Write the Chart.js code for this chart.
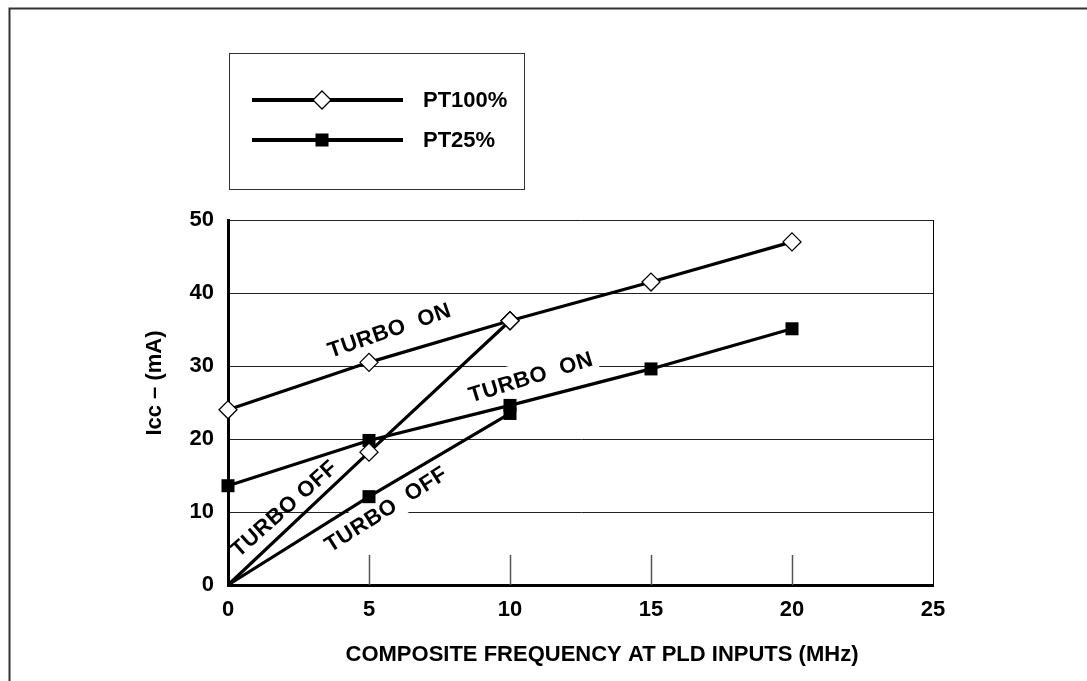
<!DOCTYPE html>
<html>
<head>
<meta charset="utf-8">
<script src="https://cdn.jsdelivr.net/npm/chart.js@4/dist/chart.umd.min.js"></script>
<style>
  html, body { margin: 0; padding: 0; background: #fff; }
  #wrap { width: 1087px; height: 681px; position: relative; }
</style>
</head>
<body>
<div id="wrap"><canvas id="c" width="1087" height="681"></canvas></div>
<script>
// ---- data ----
const seriesNames = ['PT100%', 'PT25%'];
const freqOn = [0, 5, 10, 15, 20];
const freqOff = [0, 5, 10];
const pt100On = [24, 30.5, 36.2, 41.5, 47];
const pt100Off = [0, 18.2, 36.2];
const pt25On = [13.6, 19.8, 24.6, 29.6, 35.1];
const pt25Off = [0, 12.1, 23.5];
const xTicks = [0, 5, 10, 15, 20, 25];
const yTicks = [0, 10, 20, 30, 40, 50];
const xTitle = 'COMPOSITE FREQUENCY AT PLD INPUTS (MHz)';
const yTitle = 'Icc \u2013 (mA)';
// line labels: text, x value, y value, rotation (deg), white background
const labelText = ['TURBO  ON', 'TURBO  ON', 'TURBO OFF', 'TURBO  OFF'];
const labelX = [5.72, 10.74, 1.99, 5.6];
const labelY = [34.9, 28.5, 10.5, 10.4];
const labelAngle = [-19, -17, -41.5, -32.5];
const labelBg = [false, true, false, true];

const FONT = '"Liberation Sans", Arial, sans-serif';
const FS = 22;
const toXY = (xs, ys) => xs.map((x, i) => ({x: x, y: ys[i]}));

const diamond = {pointStyle: 'rectRot', pointRadius: 9, pointBackgroundColor: '#fff', pointBorderColor: '#000', pointBorderWidth: 1.3};
const square = {pointStyle: 'rect', pointRadius: 9.2, pointBackgroundColor: '#000', pointBorderColor: '#000', pointBorderWidth: 0};
const lineBase = {borderColor: '#000', borderWidth: 3.2, showLine: true, fill: false, tension: 0, clip: false};

function drawMarker(ctx, style, x, y) {
  ctx.save();
  if (style === 'rectRot') {
    const r = 9;
    ctx.beginPath();
    ctx.moveTo(x, y - r); ctx.lineTo(x + r, y); ctx.lineTo(x, y + r); ctx.lineTo(x - r, y); ctx.closePath();
    ctx.fillStyle = '#fff'; ctx.fill();
    ctx.lineWidth = 1.3; ctx.strokeStyle = '#000'; ctx.stroke();
  } else {
    const s = 6.5;
    ctx.fillStyle = '#000';
    ctx.fillRect(x - s, y - s, 2 * s, 2 * s);
  }
  ctx.restore();
}

const decorPlugin = {
  id: 'decor',
  beforeDatasetsDraw(chart) {
    const ctx = chart.ctx, xs = chart.scales.x, ys = chart.scales.y;
    // short tick marks on x axis
    ctx.save();
    ctx.strokeStyle = '#555'; ctx.lineWidth = 1.5;
    xTicks.forEach(v => {
      if (v === 0 || v === 25) return;
      const px = Math.round(xs.getPixelForValue(v)) + 0.5;
      ctx.beginPath();
      ctx.moveTo(px, ys.getPixelForValue(0));
      ctx.lineTo(px, ys.getPixelForValue(0) - 30);
      ctx.stroke();
    });
    ctx.restore();
    // line labels
    labelText.forEach((t, i) => {
      const px = xs.getPixelForValue(labelX[i]);
      const py = ys.getPixelForValue(labelY[i]);
      ctx.save();
      ctx.translate(px, py);
      ctx.rotate(labelAngle[i] * Math.PI / 180);
      ctx.font = 'bold ' + FS + 'px ' + FONT;
      ctx.letterSpacing = '0.6px';
      const w = ctx.measureText(t).width;
      if (labelBg[i]) {
        ctx.fillStyle = '#fff';
        ctx.fillRect(-w / 2 - 4, -17, w + 8, 32);
      }
      ctx.fillStyle = '#000';
      ctx.textAlign = 'center';
      ctx.textBaseline = 'middle';
      ctx.fillText(t, 0, 1);
      ctx.restore();
    });
  },
  afterDraw(chart) {
    const ctx = chart.ctx;
    ctx.save();
    // outer frame
    ctx.strokeStyle = '#333'; ctx.lineWidth = 2;
    ctx.beginPath();
    ctx.moveTo(9.5, 681); ctx.lineTo(9.5, 8.5); ctx.lineTo(1087, 8.5);
    ctx.stroke();
    // legend box
    ctx.lineWidth = 1; ctx.strokeStyle = '#333';
    ctx.strokeRect(229.5, 53.5, 295, 136);
    const styles = [chart.data.datasets[0].pointStyle, chart.data.datasets[2].pointStyle];
    seriesNames.forEach((name, i) => {
      const y = 100 + i * 40;
      ctx.strokeStyle = '#000'; ctx.lineWidth = 4;
      ctx.beginPath(); ctx.moveTo(252, y); ctx.lineTo(403, y); ctx.stroke();
      drawMarker(ctx, styles[i], 322, y);
      ctx.fillStyle = '#000';
      ctx.font = 'bold ' + FS + 'px ' + FONT;
      ctx.textAlign = 'left'; ctx.textBaseline = 'middle';
      ctx.fillText(name, 423, y + 1);
    });
    // axis titles
    ctx.font = 'bold ' + FS + 'px ' + FONT;
    ctx.textAlign = 'center'; ctx.textBaseline = 'middle';
    ctx.fillText(xTitle, 602, 655);
    ctx.translate(155, 383);
    ctx.rotate(-Math.PI / 2);
    ctx.fillText(yTitle, 0, 0);
    ctx.restore();
  }
};

new Chart(document.getElementById('c'), {
  type: 'scatter',
  data: {
    datasets: [
      Object.assign({label: seriesNames[0] + ' TURBO ON', data: toXY(freqOn, pt100On)}, lineBase, diamond),
      Object.assign({label: seriesNames[0] + ' TURBO OFF', data: toXY(freqOff, pt100Off)}, lineBase, diamond, {pointRadius: [0, 9, 9]}),
      Object.assign({label: seriesNames[1] + ' TURBO ON', data: toXY(freqOn, pt25On)}, lineBase, square),
      Object.assign({label: seriesNames[1] + ' TURBO OFF', data: toXY(freqOff, pt25Off)}, lineBase, square, {pointRadius: [0, 9.2, 9.2]})
    ]
  },
  options: {
    responsive: false,
    animation: false,
    events: [],
    layout: {padding: {left: 0, top: 220, right: 154, bottom: 0}},
    plugins: {legend: {display: false}, title: {display: false}, tooltip: {enabled: false}},
    scales: {
      x: {
        type: 'linear', min: 0, max: 25,
        afterBuildTicks: s => { s.ticks = xTicks.map(v => ({value: v})); },
        afterFit: s => { s.height = 96; },
        border: {display: true, width: 3, color: '#000'},
        grid: {drawTicks: false, lineWidth: 1, color: c => (c.tick && c.tick.value === 25) ? '#000' : 'rgba(0,0,0,0)'},
        ticks: {padding: 12, color: '#000', font: {family: FONT, size: FS, weight: 'bold'}, maxRotation: 0}
      },
      y: {
        type: 'linear', min: 0, max: 50,
        afterBuildTicks: s => { s.ticks = yTicks.map(v => ({value: v})); },
        afterFit: s => { s.width = 228; },
        border: {display: true, width: 3, color: '#000'},
        grid: {drawTicks: false, lineWidth: 1, color: c => (c.tick && c.tick.value === 0) ? 'rgba(0,0,0,0)' : '#222'},
        ticks: {padding: 14, color: '#000', font: {family: FONT, size: FS, weight: 'bold'}}
      }
    }
  },
  plugins: [decorPlugin]
});
</script>
</body>
</html>
